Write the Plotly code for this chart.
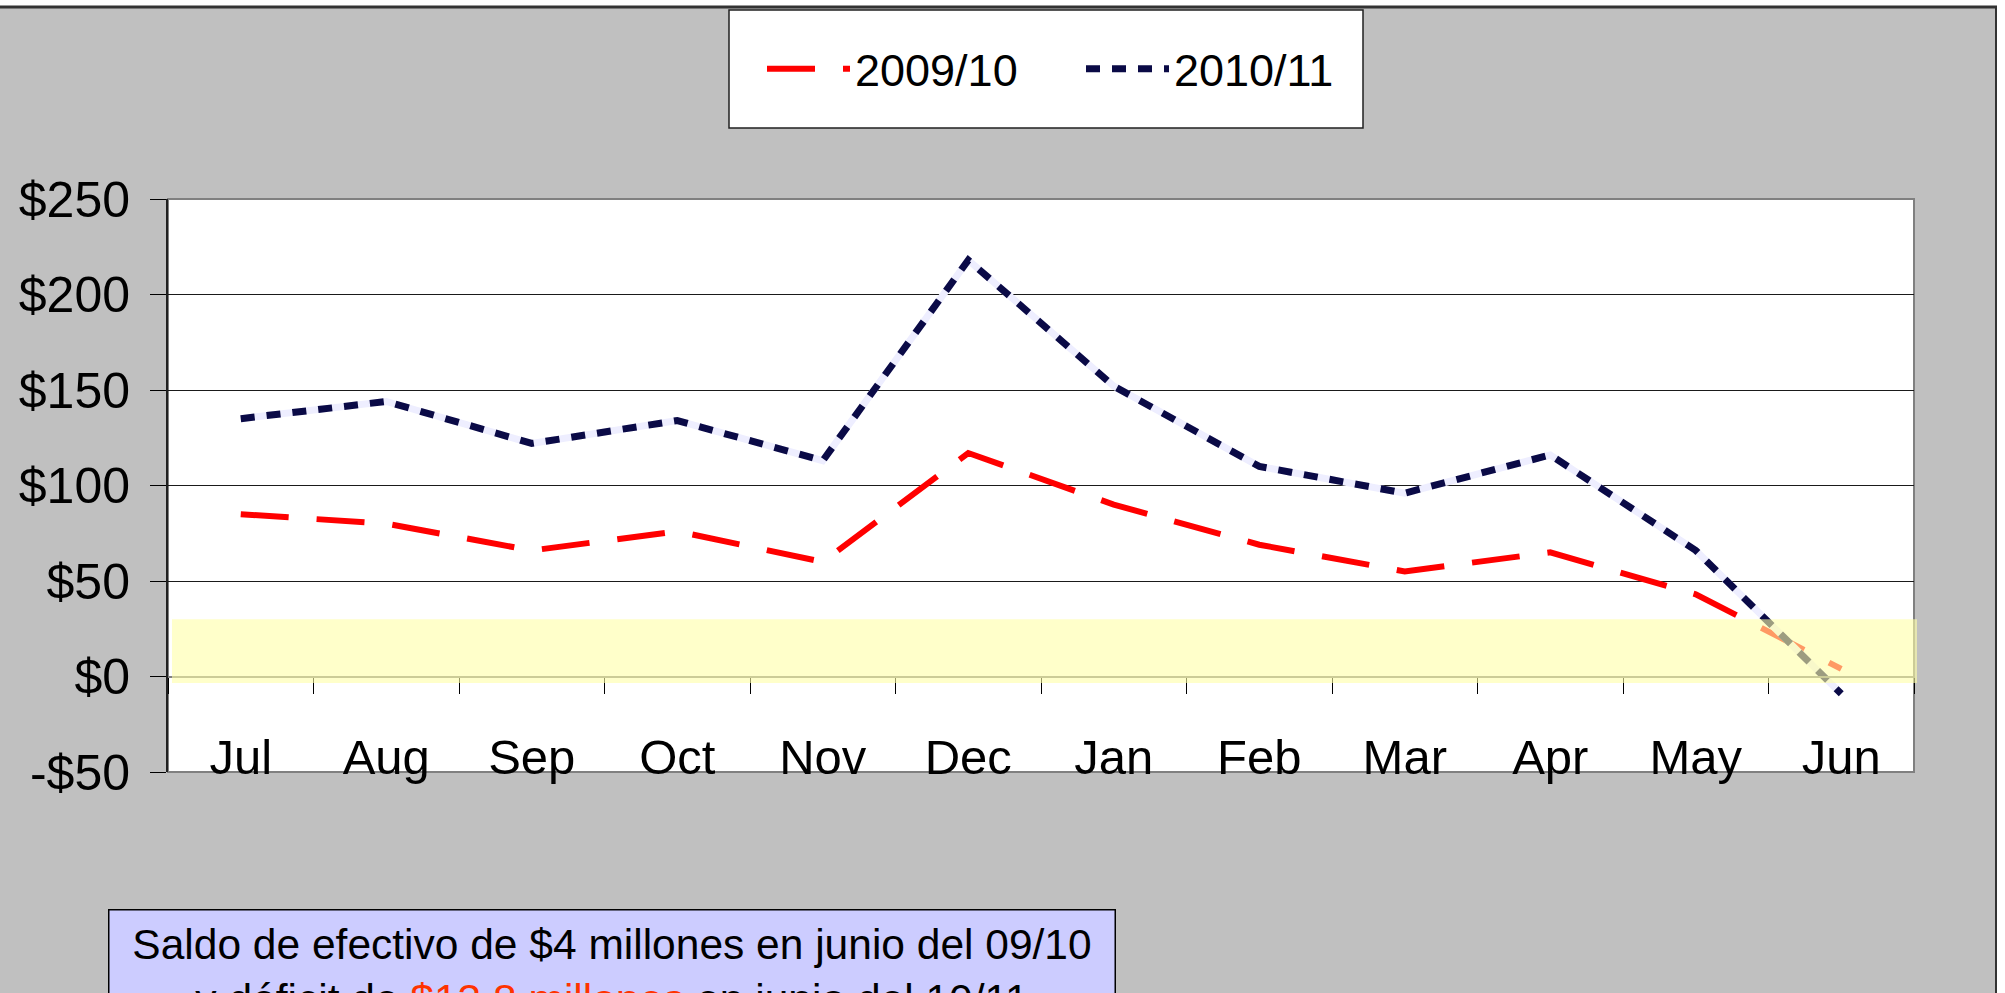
import plotly.graph_objects as go

months = ["Jul", "Aug", "Sep", "Oct", "Nov", "Dec", "Jan", "Feb", "Mar", "Apr", "May", "Jun"]
saldo_2009_10 = [85, 80, 66, 76, 60, 117, 90, 69, 55, 65, 43, 4]
saldo_2010_11 = [135, 144, 122, 134, 113, 218, 152, 110, 96, 116, 66, -9]
y_ticks = [-50, 0, 50, 100, 150, 200, 250]
y_tick_labels = ["-$50", "$0", "$50", "$100", "$150", "$200", "$250"]
series_names = ["2009/10", "2010/11"]
band_low, band_high = -3.4, 30

FONT = "Liberation Sans, Arial, sans-serif"
W, H = 2005, 993
L, R, T, B = 168, 1914, 199, 772


def px(x):
    return (x - L) / (R - L)


def py(y):
    return (B - y) / (B - T)


fig = go.Figure()
fig.add_trace(go.Scatter(x=months, y=saldo_2009_10, name=series_names[0], mode="lines",
                         line=dict(color="#FF0000", width=6, dash="48px,28px")))
fig.add_trace(go.Scatter(x=months, y=saldo_2010_11, name=series_names[1] + "_bg", mode="lines",
                         showlegend=False, hoverinfo="skip",
                         line=dict(color="#EEEEFF", width=7)))
fig.add_trace(go.Scatter(x=months, y=saldo_2010_11, name=series_names[1], mode="lines",
                         line=dict(color="#0A0A46", width=7, dash="14px,12px")))

shapes = [
    # yellow band
    dict(type="rect", xref="paper", yref="y", x0=px(172), x1=px(1917), y0=band_low, y1=band_high,
         fillcolor="rgba(255,255,167,0.6)", line=dict(width=0), layer="above"),
    # plot border (top, right, bottom)
    dict(type="rect", xref="paper", yref="paper", x0=0, x1=1, y0=0, y1=1,
         line=dict(color="#808080", width=2), layer="below"),
    # legend box
    dict(type="rect", xref="paper", yref="paper", x0=px(729), x1=px(1363), y0=py(10), y1=py(128),
         fillcolor="white", line=dict(color="#202020", width=1.5), layer="below"),
    # outer frame: white strips and dark border lines
    dict(type="rect", xref="paper", yref="paper", x0=px(0), x1=px(W), y0=py(0), y1=py(6),
         fillcolor="white", line=dict(width=0), layer="below"),
    dict(type="rect", xref="paper", yref="paper", x0=px(1997), x1=px(W), y0=py(0), y1=py(H),
         fillcolor="white", line=dict(width=0), layer="below"),
    dict(type="line", xref="paper", yref="paper", x0=px(0), x1=px(1997), y0=py(7), y1=py(7),
         line=dict(color="#333333", width=3), layer="below"),
    dict(type="line", xref="paper", yref="paper", x0=px(1996), x1=px(1996), y0=py(6), y1=py(H),
         line=dict(color="#333333", width=2), layer="below"),
]

annotations = [
    dict(xref="paper", yref="paper", x=px(108), y=py(909), xanchor="left", yanchor="top",
         text="Saldo de efectivo de $4 millones en junio del 09/10<br>"
              "y déficit de <span style='color:#FF3300'>$13.8 millones</span> en junio del 10/11",
         showarrow=False, align="center", valign="top",
         width=985, height=130, borderpad=10,
         bgcolor="#CCCCFF", bordercolor="#000000", borderwidth=1.5,
         font=dict(family=FONT, size=42.5, color="black")),
]

fig.update_layout(
    width=W, height=H, autosize=False,
    margin=dict(l=L, r=W - R, t=T, b=H - B, pad=0),
    paper_bgcolor="#C0C0C0", plot_bgcolor="white",
    font=dict(family=FONT, size=45, color="black"),
    showlegend=True,
    legend=dict(orientation="h", x=px(762), y=py(69), xanchor="left", yanchor="middle",
                bgcolor="rgba(0,0,0,0)", borderwidth=0, itemwidth=83, entrywidth=221,
                font=dict(family=FONT, size=45, color="black"), tracegroupgap=0),
    xaxis=dict(type="category", categoryorder="array", categoryarray=months,
               range=[-0.5, len(months) - 0.5],
               anchor="free", position=50 / 300,
               showline=True, linecolor="#808080", linewidth=2,
               ticks="outside", ticklen=16, tickwidth=1, tickcolor="black",
               tickson="boundaries", showgrid=False, ticklabelstandoff=38,
               tickfont=dict(family=FONT, size=49, color="black")),
    yaxis=dict(range=[-50, 250], tickvals=y_ticks, ticktext=y_tick_labels,
               showline=True, linecolor="#202020", linewidth=2,
               ticks="outside", ticklen=16, tickwidth=1, tickcolor="black",
               showgrid=True, gridcolor="#1a1a1a", gridwidth=1, zeroline=False,
               ticklabelstandoff=10,
               tickfont=dict(family=FONT, size=50, color="black")),
    shapes=shapes,
    annotations=annotations,
)

fig.write_html("out.html", config={"displayModeBar": False},
               post_script="document.body.style.margin='0px';")
